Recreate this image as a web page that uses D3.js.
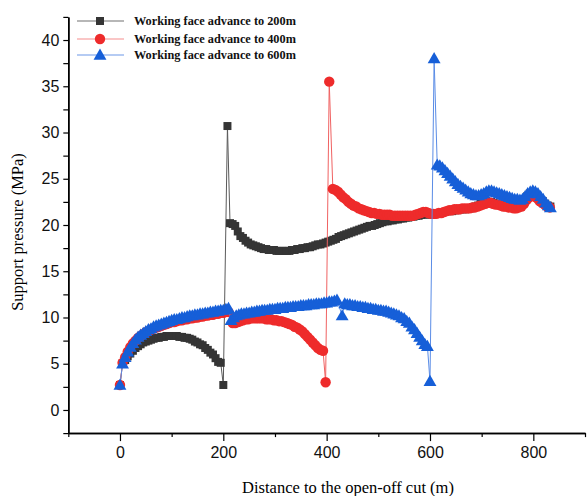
<!DOCTYPE html>
<html><head><meta charset="utf-8">
<script src="https://cdn.jsdelivr.net/npm/d3@7"></script>
<style>body{margin:0;background:#fff}svg{display:block}</style>
</head><body>
<svg id="chart" width="587" height="496"></svg>
<script>
// ---- data (distance in m, support pressure in MPa) ----
const dist200 = [0,5,10,15,20,25,30,35,40,45,50,55,60,65,70,75,80,85,90,95,100,105,110,115,120,125,130,135,140,145,150,155,160,165,170,175,180,185,190,195,200,208,213,218,223,228,233,238,243,248,253,258,263,268,273,278,283,288,293,298,303,308,313,318,323,328,333,338,343,348,353,358,363,368,373,378,383,388,393,398,403,408,413,418,423,428,433,438,443,448,453,458,463,468,473,478,483,488,493,498,503,508,513,518,523,528,533,538,543,548,553,558,563,568,573,578,583,588,593,598,603,608,613,618,623,628,633,638,643,648,653,658,663,668,673,678,683,688,693,698,703,708,713,718,723,728,733,738,743,748,753,758,763,768,773,778,783,788,793,798,803,808,813,818,823,828,833];
const press200 = [2.7,5.0,5.4,5.8,6.1,6.4,6.7,6.9,7.1,7.3,7.4,7.5,7.6,7.7,7.8,7.8,7.9,7.9,8.0,8.0,8.0,8.0,8.0,7.9,7.9,7.8,7.8,7.7,7.6,7.4,7.3,7.1,7.0,6.7,6.5,6.2,6.0,5.6,5.2,5.1,2.7,30.7,20.2,20.1,19.9,19.3,18.8,18.6,18.3,18.1,17.9,17.8,17.7,17.6,17.5,17.4,17.4,17.3,17.3,17.3,17.2,17.2,17.2,17.2,17.2,17.2,17.3,17.3,17.4,17.4,17.5,17.5,17.6,17.6,17.7,17.8,17.9,17.9,18.0,18.1,18.2,18.3,18.4,18.5,18.7,18.8,18.9,19.0,19.1,19.2,19.3,19.4,19.5,19.6,19.7,19.8,19.9,19.9,20.0,20.1,20.2,20.3,20.4,20.4,20.5,20.5,20.6,20.6,20.7,20.7,20.8,20.8,20.9,20.9,21.0,21.0,21.1,21.1,21.2,21.2,21.1,21.2,21.3,21.3,21.4,21.4,21.5,21.5,21.5,21.6,21.6,21.7,21.7,21.7,21.8,21.8,21.9,22.0,22.1,22.3,22.5,22.6,22.5,22.5,22.4,22.3,22.2,22.2,22.1,22.1,22.0,22.0,22.0,22.0,22.1,22.4,22.8,23.1,23.4,23.4,23.3,23.1,22.8,22.6,22.3,22.1,22.0];

const dist400 = [0,5,10,15,20,25,30,35,40,45,50,55,60,65,70,75,80,85,90,95,100,105,110,115,120,125,130,135,140,145,150,155,160,165,170,175,180,185,190,195,200,205,210,218,223,228,233,238,243,248,253,258,263,268,273,278,283,288,293,298,303,308,313,318,323,328,333,338,343,348,353,358,363,368,373,378,383,388,393,398,405,412,417,422,427,432,437,442,447,452,457,462,467,472,477,482,487,492,497,502,507,512,517,522,527,532,537,542,547,552,557,562,567,572,577,582,587,592,597,602,607,612,617,622,627,632,637,642,647,652,657,662,667,672,677,682,687,692,697,702,707,712,717,722,727,732,737,742,747,752,757,762,767,772,777,782,787,792,797,802,807,812,817,822,827,832];
const press400 = [2.7,5.1,5.7,6.3,6.8,7.2,7.5,7.8,8.0,8.2,8.4,8.5,8.7,8.8,8.9,9.0,9.1,9.2,9.3,9.4,9.5,9.5,9.6,9.7,9.7,9.8,9.8,9.9,9.9,10.0,10.0,10.1,10.1,10.2,10.2,10.3,10.3,10.4,10.4,10.5,10.5,10.6,10.6,9.4,9.4,9.5,9.6,9.7,9.8,9.8,9.9,9.9,9.9,9.9,9.9,9.9,9.8,9.8,9.8,9.7,9.7,9.6,9.6,9.5,9.4,9.3,9.2,9.0,8.9,8.7,8.5,8.2,7.9,7.6,7.3,7.0,6.7,6.5,6.4,3.0,35.5,23.9,23.8,23.6,23.3,23.0,22.8,22.5,22.3,22.1,22.0,21.8,21.7,21.6,21.5,21.4,21.3,21.3,21.2,21.2,21.1,21.1,21.1,21.1,21.0,21.0,21.0,21.0,21.0,21.0,21.0,21.0,21.0,21.1,21.2,21.3,21.4,21.4,21.3,21.2,21.2,21.2,21.3,21.3,21.4,21.5,21.6,21.6,21.7,21.7,21.7,21.8,21.8,21.8,21.8,21.9,21.9,22.0,22.1,22.2,22.3,22.4,22.4,22.3,22.2,22.2,22.1,22.0,22.0,21.9,21.9,21.8,21.8,21.9,22.0,22.3,22.7,23.0,23.2,23.1,22.9,22.6,22.4,22.2,22.0,21.9];

const dist600 = [0,5,10,15,20,25,30,35,40,45,50,55,60,65,70,75,80,85,90,95,100,105,110,115,120,125,130,135,140,145,150,155,160,165,170,175,180,185,190,195,200,205,210,215,220,225,230,235,240,245,250,255,260,265,270,275,280,285,290,295,300,305,310,315,320,325,330,335,340,345,350,355,360,365,370,375,380,385,390,395,400,405,410,415,420,430,435,440,445,450,455,460,465,470,475,480,485,490,495,500,505,510,515,520,525,530,535,540,545,550,555,560,565,570,575,580,585,590,595,600,608,614,619,624,629,634,639,644,649,654,659,664,669,674,679,684,689,694,699,704,709,714,719,724,729,734,739,744,749,754,759,764,769,774,779,784,789,794,799,804,809,814,819,824,829,833];
const press600 = [2.7,5.0,5.7,6.3,6.8,7.2,7.6,7.9,8.1,8.3,8.5,8.7,8.8,9.0,9.1,9.2,9.3,9.4,9.5,9.6,9.7,9.8,9.8,9.9,10.0,10.0,10.1,10.2,10.2,10.3,10.3,10.4,10.4,10.5,10.5,10.6,10.6,10.7,10.7,10.8,10.8,10.9,11.0,9.7,10.0,10.2,10.3,10.4,10.4,10.5,10.5,10.6,10.6,10.7,10.7,10.8,10.8,10.8,10.9,10.9,10.9,11.0,11.0,11.0,11.1,11.1,11.1,11.2,11.2,11.2,11.3,11.3,11.3,11.4,11.4,11.4,11.5,11.5,11.5,11.6,11.6,11.7,11.7,11.8,11.9,10.2,11.5,11.4,11.4,11.3,11.3,11.2,11.2,11.1,11.1,11.0,11.0,10.9,10.9,10.8,10.8,10.7,10.7,10.6,10.5,10.4,10.3,10.2,10.0,9.9,9.6,9.4,9.0,8.7,8.3,7.9,7.5,7.1,6.9,3.1,38.0,26.5,26.4,26.2,25.9,25.6,25.3,25.0,24.7,24.4,24.2,24.0,23.8,23.6,23.4,23.3,23.2,23.2,23.3,23.4,23.6,23.7,23.7,23.6,23.5,23.4,23.3,23.2,23.1,23.0,22.9,22.8,22.8,22.7,22.8,23.1,23.4,23.6,23.7,23.6,23.4,23.1,22.8,22.4,22.1,21.9];

const seriesNames = ["Working face advance to 200m","Working face advance to 400m","Working face advance to 600m"];
const xMajorTicks = [0,200,400,600,800];
const xMinorTicks = [-100,100,300,500,700,900];
const yMajorTicks = [0,5,10,15,20,25,30,35,40];
const yMinorTicks = [-2.5,2.5,7.5,12.5,17.5,22.5,27.5,32.5,37.5,42.5];

// ---- chart ----
const svg = d3.select("#chart");
const x = d3.scaleLinear().domain([-100, 900]).range([68.3, 585]);
const y = d3.scaleLinear().domain([-2.5, 42.5]).range([433.1, 16.9]);

const series = [
  {name: seriesNames[0], xs: dist200, ys: press200, marker: "square", color: "#353535", line: "#5a5a5a", lcolor: "#707070"},
  {name: seriesNames[1], xs: dist400, ys: press400, marker: "circle", color: "#ee2b2b", line: "#f06262", lcolor: "#f58e8e"},
  {name: seriesNames[2], xs: dist600, ys: press600, marker: "triangle", color: "#165fd8", line: "#5a8ce6", lcolor: "#6c98e8"}
];
const symbolFor = m => m === "square" ? d3.symbol().type(d3.symbolSquare).size(64)
  : m === "circle" ? d3.symbol().type(d3.symbolCircle).size(85)
  : d3.symbol().type(d3.symbolTriangle).size(72);

const line = d3.line().x(d => x(d[0])).y(d => y(d[1]));

series.forEach(s => {
  const pts = s.xs.map((v, i) => [v, s.ys[i]]);
  const g = svg.append("g");
  g.append("path").datum(pts).attr("d", line).attr("fill", "none")
    .attr("stroke", s.line).attr("stroke-width", 1);
  g.selectAll("path.m").data(pts).enter().append("path").attr("class", "m")
    .attr("d", symbolFor(s.marker))
    .attr("transform", d => `translate(${x(d[0])},${y(d[1]) + (s.marker === "triangle" ? 1 : 0)})`)
    .attr("fill", s.color);
});

// axes
svg.append("g").attr("transform", `translate(0,${y(-2.5)})`)
  .call(d3.axisBottom(x).tickValues(xMajorTicks).tickSize(8).tickPadding(6).tickSizeOuter(0));
svg.append("g").attr("transform", `translate(0,${y(-2.5)})`)
  .call(d3.axisBottom(x).tickValues(xMinorTicks).tickSize(4).tickFormat("").tickSizeOuter(0));
svg.append("g").attr("transform", `translate(${x(-100)},0)`)
  .call(d3.axisLeft(y).tickValues(yMajorTicks).tickSize(5).tickPadding(4).tickSizeOuter(0));
svg.append("g").attr("transform", `translate(${x(-100)},0)`)
  .call(d3.axisLeft(y).tickValues(yMinorTicks).tickSize(5).tickFormat("").tickSizeOuter(0));
svg.selectAll(".domain").attr("stroke", "#000").attr("stroke-width", 1.5);
svg.selectAll(".tick line").attr("stroke", "#000").attr("stroke-width", 1.2);
svg.selectAll(".tick text").attr("font-family", "'Liberation Sans', Arial, sans-serif")
  .attr("font-size", 16).attr("fill", "#111");

// axis titles
svg.append("text").attr("x", 348).attr("y", 493).attr("text-anchor", "middle")
  .attr("font-family", "'Liberation Serif', 'Times New Roman', serif").attr("font-size", 16.5)
  .text("Distance to the open-off cut (m)");
svg.append("text").attr("transform", "translate(23,232) rotate(-90)").attr("text-anchor", "middle")
  .attr("font-family", "'Liberation Serif', 'Times New Roman', serif").attr("font-size", 16.5)
  .text("Support pressure (MPa)");

// legend
const legY = [21, 39, 55];
series.forEach((s, i) => {
  const g = svg.append("g").attr("transform", `translate(0,${legY[i]})`);
  g.append("line").attr("x1", 77).attr("x2", 124).attr("y1", 0).attr("y2", 0)
    .attr("stroke", s.lcolor).attr("stroke-width", 1.2);
  g.append("path").attr("d", symbolFor(s.marker)).attr("transform", `translate(100,${s.marker === "triangle" ? 1 : 0})`).attr("fill", s.color);
  g.append("text").attr("x", 134).attr("y", 4).attr("font-family", "'Liberation Serif', 'Times New Roman', serif")
    .attr("font-size", 12.3).attr("font-weight", "bold").attr("fill", "#111").text(s.name);
});
</script>
</body></html>
